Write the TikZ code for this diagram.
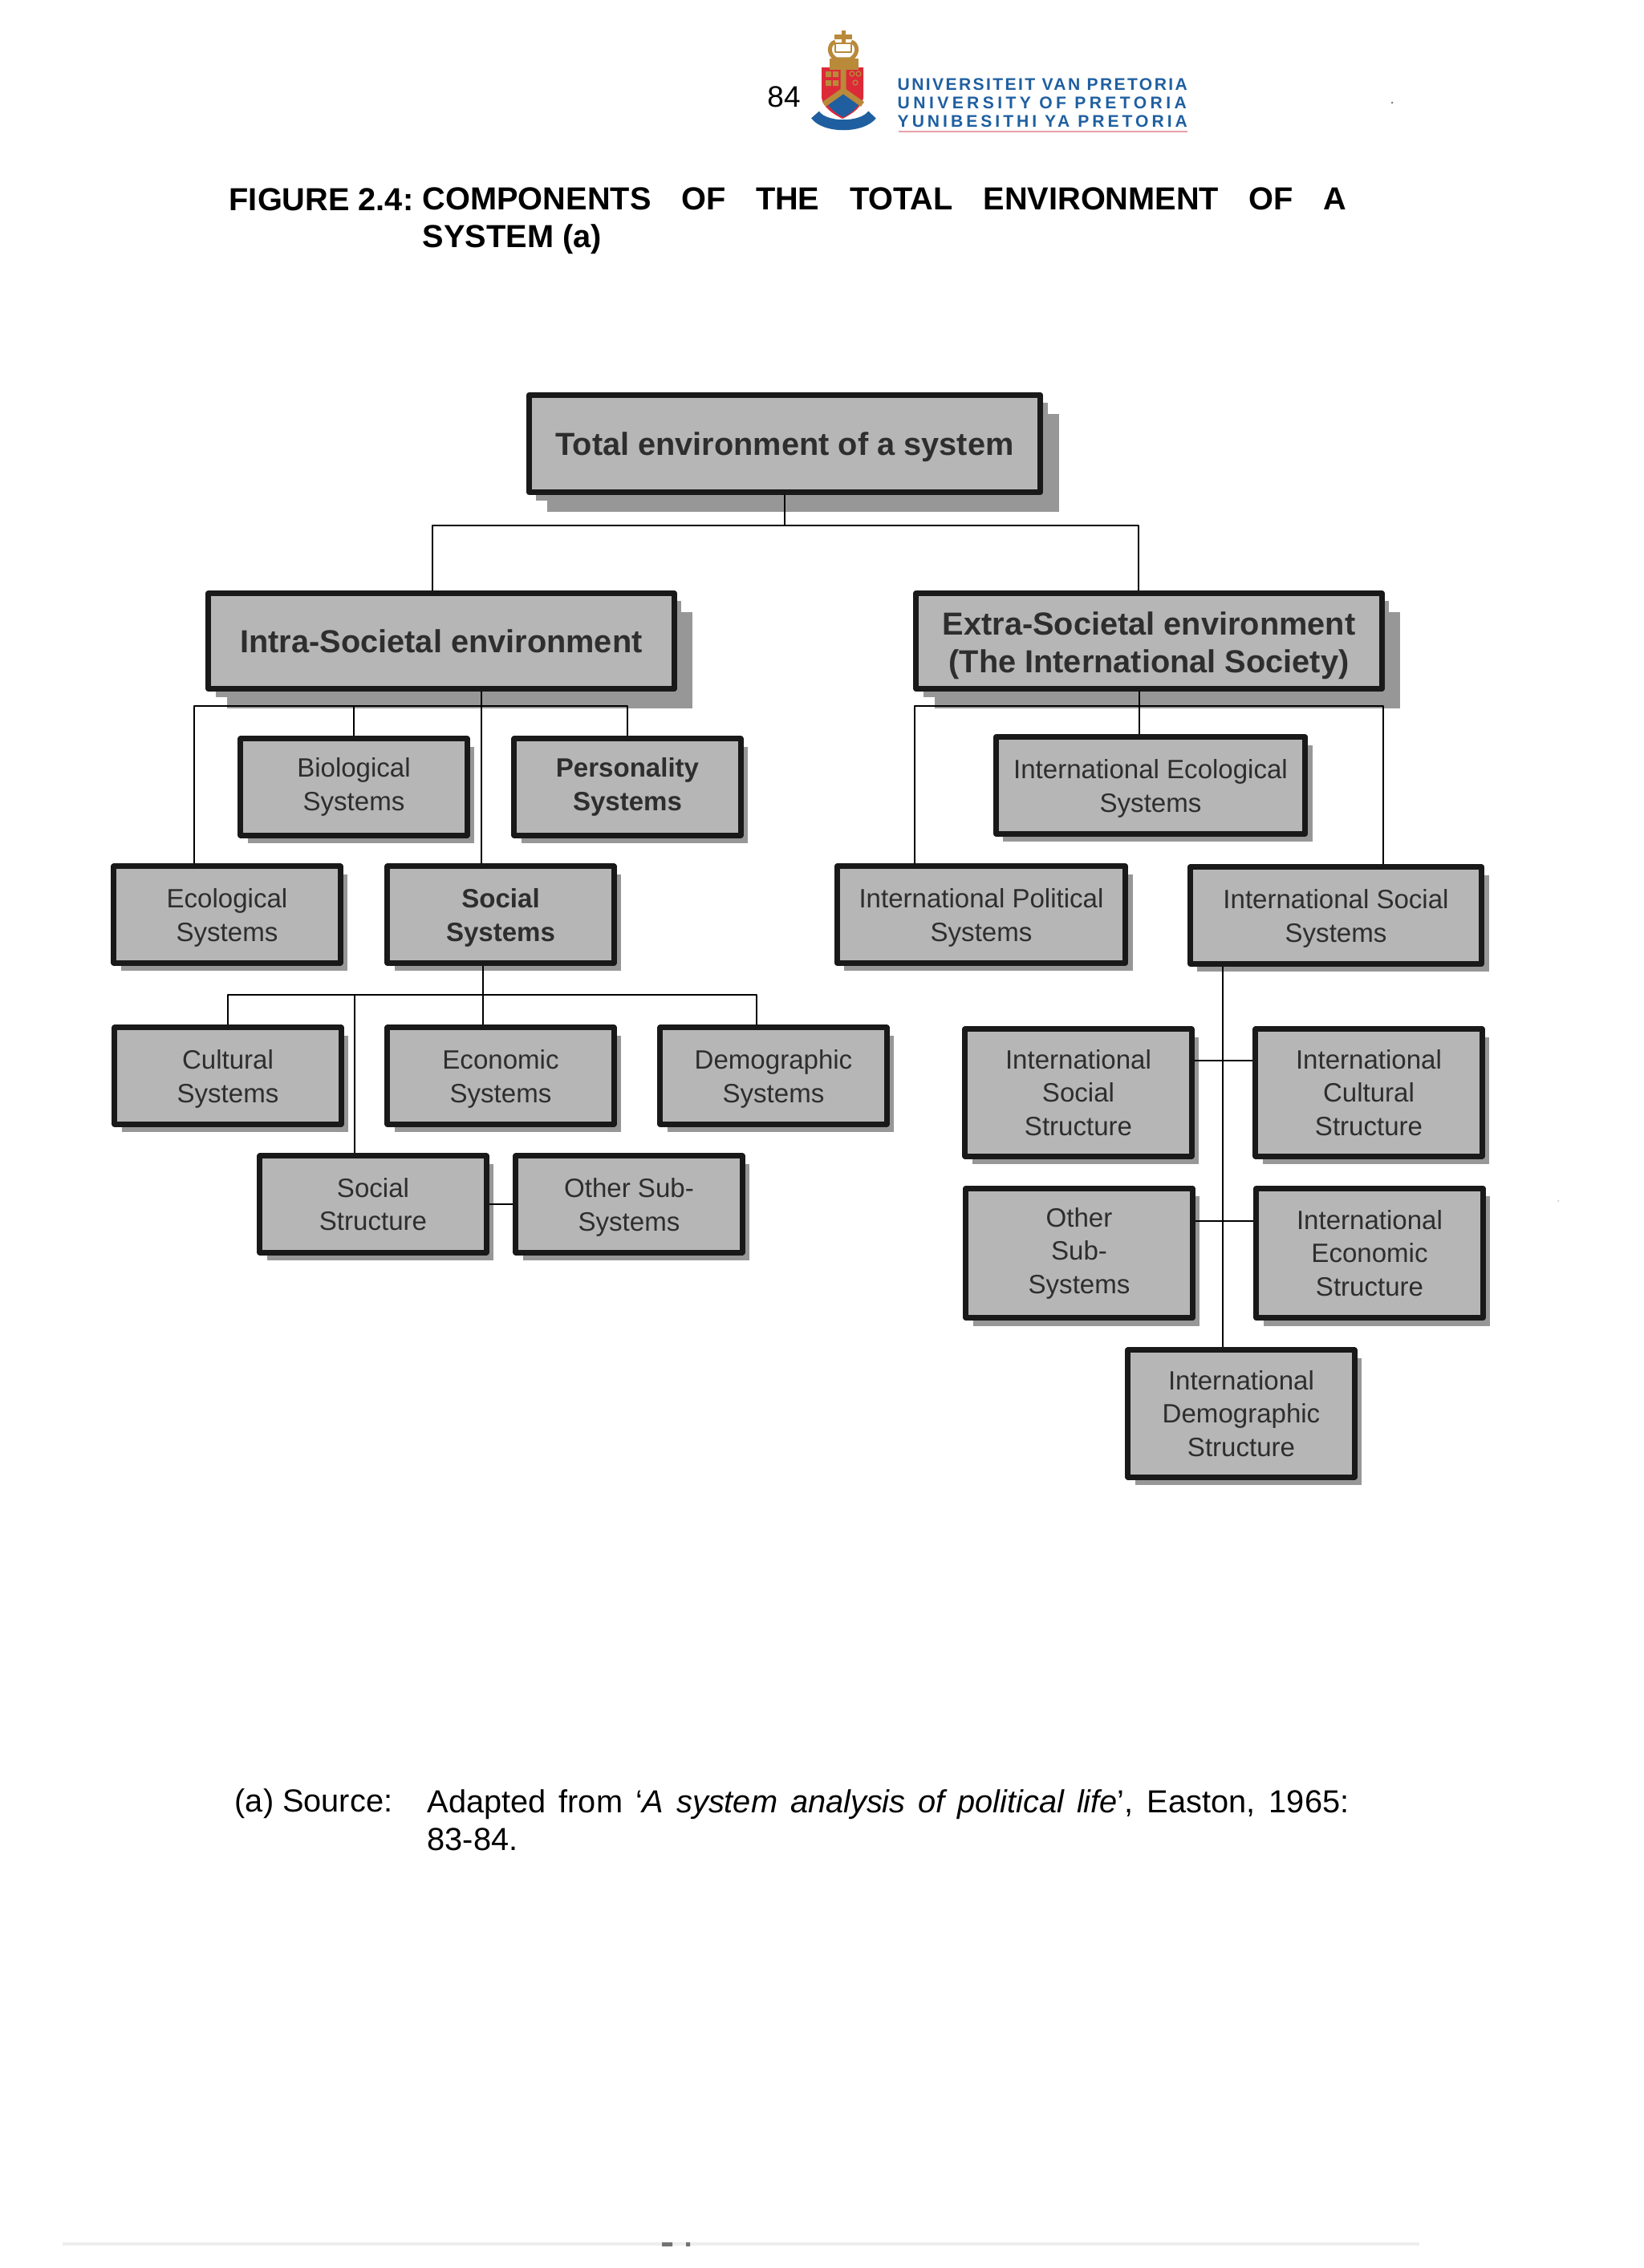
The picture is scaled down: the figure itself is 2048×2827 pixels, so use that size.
\documentclass[tikz,border=0pt]{standalone}
\usepackage{fontspec}
\setmainfont{Liberation Sans}
\newfontfamily\crestfont{Liberation Sans}
\usetikzlibrary{shadows}
\definecolor{boxgray}{HTML}{B6B6B6}
\definecolor{shadegray}{HTML}{979797}
\definecolor{inkgray}{HTML}{2E2E2E}
\definecolor{crestblue}{HTML}{1F5FA0}
\definecolor{crestred}{HTML}{DC2A38}
\definecolor{crestgold}{HTML}{B98A3A}
\definecolor{crestpink}{HTML}{E8A0A8}
\definecolor{scanfaint}{HTML}{EEEEEE}
\newcommand{\lowfirst}[1]{\rule{0pt}{#1}}
\tikzset{
  sysbox/.style={draw=black!90, line width=0.07cm, fill=boxgray, align=center, inner sep=0pt, text=inkgray,
    font=\fontsize{9.4}{11.8}\selectfont, minimum width=2.82cm, minimum height=1.20cm,
    drop shadow={shadow xshift=0.09cm, shadow yshift=-0.10cm, fill=shadegray, opacity=1}},
  tallbox/.style={sysbox, minimum height=1.58cm},
  boldbox/.style={sysbox, font=\fontsize{9.4}{11.8}\selectfont\bfseries},
  headbox/.style={sysbox, font=\fontsize{11.3}{13.3}\selectfont\bfseries, minimum width=5.80cm,
    drop shadow={shadow xshift=0.23cm, shadow yshift=-0.24cm, fill=shadegray, opacity=1}},
  link/.style={draw=black, line width=0.02cm},
  pagetext/.style={inner sep=0pt, font=\fontsize{11.3}{13.3}\selectfont},
  cresttext/.style={anchor=west, inner sep=0pt, text=crestblue, font=\crestfont\fontsize{6}{7}\selectfont\bfseries}
}
\begin{document}
\begin{tikzpicture}[x=0.01cm, y=-0.01cm, line join=round]
  \useasboundingbox (0,0) rectangle (2048,2827);

  % Page head
  \node[pagetext, font=\fontsize{10.5}{12}\selectfont] (pageno) at (977,121) {84};
  \node[cresttext] (crestone) at (1118,105) {\addfontfeature{LetterSpace=11.3}UNIVERSITEIT VAN PRETORIA};
  \node[cresttext] (cresttwo) at (1118,128) {\addfontfeature{LetterSpace=20.9}UNIVERSITY OF PRETORIA};
  \node[cresttext] (crestthree) at (1118,151) {\addfontfeature{LetterSpace=18.9}YUNIBESITHI YA PRETORIA};
  \draw[crestpink, line width=0.02cm] (1120,164) -- (1480,164);

  % Crest
  \fill[crestred] (1024,84) -- (1076,84) -- (1076,122) .. controls (1074,134) and (1062,142) .. (1050,148) .. controls (1038,142) and (1026,134) .. (1024,122) -- cycle;
  \fill[crestblue] (1031,129) -- (1051,115) -- (1071,129) .. controls (1066,137) and (1058,143) .. (1051,146) .. controls (1044,143) and (1036,137) .. (1031,129) -- cycle;
  \draw[crestgold, line width=0.07cm] (1051,84) -- (1051,113) (1027,130) -- (1051,113) -- (1075,130);
  \fill[crestgold] (1029,89) rectangle (1036,96) (1038,89) rectangle (1045,96) (1029,100) rectangle (1036,107) (1038,100) rectangle (1045,107);
  \draw[crestgold, line width=0.012cm] (1062,92) circle (3) (1070,92) circle (3) (1066,103) circle (3);
  \draw[crestgold, line width=0.14cm] (1034,80) -- (1070,80);
  \draw[crestgold, line width=0.05cm] (1042,74) .. controls (1030,66) and (1034,54) .. (1041,52) (1060,74) .. controls (1072,66) and (1068,54) .. (1061,52) (1042,74) -- (1060,74);
  \fill[white, draw=crestgold, line width=0.015cm] (1041,54) rectangle (1061,65);
  \draw[crestgold, line width=0.05cm] (1051,38) -- (1051,54) (1040,46) -- (1062,46);
  \draw[crestblue, line width=0.13cm] (1016,143) .. controls (1028,160) and (1074,160) .. (1087,143);

  % Title
  \node[pagetext, anchor=base west, font=\fontsize{11.3}{13.3}\selectfont\bfseries] (figno) at (285,262) {FIGURE 2.4:};
  \node[pagetext, anchor=north west, text width=11.51cm, align=justify, font=\fontsize{11.3}{13.3}\selectfont\bfseries] (figtitle) at (526,233)
    {COMPONENTS OF THE TOTAL ENVIRONMENT OF A\linebreak SYSTEM (a)};

  % Top levels
  \node[headbox, minimum width=6.37cm, minimum height=1.21cm] (total) at (978,553) {\lowfirst{10.4pt}Total environment of a system};
  \node[headbox, minimum height=1.19cm] (intra) at (550,799) {Intra-Societal environment};
  \node[headbox, minimum height=1.19cm] (extra) at (1432,799) {\lowfirst{11.4pt}Extra-Societal environment\\(The International Society)};

  % Intra-societal side
  \node[sysbox] (bio) at (441,981) {Biological\\Systems};
  \node[boldbox] (person) at (782,981) {Personality\\Systems};
  \node[sysbox] (eco) at (283,1140) {\lowfirst{9pt}Ecological\\Systems};
  \node[boldbox] (social) at (624,1140) {\lowfirst{9pt}Social\\Systems};
  \node[sysbox] (cult) at (284,1341) {\lowfirst{9pt}Cultural\\Systems};
  \node[sysbox] (econ) at (624,1341) {\lowfirst{9pt}Economic\\Systems};
  \node[sysbox] (demo) at (964,1341) {\lowfirst{9pt}Demographic\\Systems};
  \node[sysbox] (struct) at (465,1501) {Social\\Structure};
  \node[sysbox] (other) at (784,1501) {\lowfirst{9pt}Other Sub-\\Systems};

  % Extra-societal side
  \node[sysbox, minimum width=3.85cm] (intleco) at (1434,979) {\lowfirst{9pt}International Ecological\\Systems};
  \node[sysbox, minimum width=3.59cm] (intlpol) at (1223,1140) {\lowfirst{9pt}International Political\\Systems};
  \node[sysbox, minimum width=3.63cm] (intlsoc) at (1665,1141) {\lowfirst{9pt}International Social\\Systems};
  \node[tallbox] (socstruct) at (1344,1362) {International\\Social\\Structure};
  \node[tallbox] (culstruct) at (1706,1362) {International\\Cultural\\Structure};
  \node[tallbox, minimum height=1.61cm] (othersub) at (1345,1562) {Other\\Sub-\\Systems};
  \node[tallbox, minimum height=1.61cm] (ecostruct) at (1707,1562) {International\\Economic\\Structure};
  \node[tallbox] (demstruct) at (1547,1762) {International\\Demographic\\Structure};

  % Links from the top
  \coordinate (intrabus) at (539,655);
  \coordinate (extrabus) at (1419,655);
  \draw[link] (total.south) |- (intrabus) -- (intrabus |- intra.north);
  \draw[link] (total.south) |- (extrabus) -- (extrabus |- extra.north);

  % Links of the intra-societal side
  \coordinate (ecobus) at (242,880);
  \coordinate (socbus) at (600,880);
  \draw[link] (ecobus |- eco.north) -- (ecobus) -| (person.north);
  \draw[link] (bio.north |- ecobus) -- (bio.north);
  \draw[link] (socbus |- intra.south) -- (socbus |- social.north);
  \coordinate (subbus) at (602,1240);
  \coordinate (demobus) at (943,1240);
  \coordinate (structbus) at (442,1240);
  \draw[link] (subbus |- social.south) -- (subbus |- econ.north);
  \draw[link] (cult.north) |- (demobus) -- (demobus |- demo.north);
  \draw[link] (structbus) -- (structbus |- struct.north);
  \draw[link] (struct) -- (other);

  % Links of the extra-societal side
  \coordinate (polbus) at (1140,880);
  \coordinate (socialbus) at (1724,880);
  \coordinate (ecodrop) at (1420,880);
  \draw[link] (polbus |- intlpol.north) -- (polbus) -- (socialbus) -- (socialbus |- intlsoc.north);
  \draw[link] (ecodrop |- extra.south) -- (ecodrop |- intleco.north);
  \coordinate (trunk) at (1524,1322);
  \coordinate (trunktwo) at (1524,1522);
  \draw[link] (trunk |- intlsoc.south) -- (trunk |- demstruct.north);
  \draw[link] (socstruct.east |- trunk) -- (culstruct.west |- trunk);
  \draw[link] (othersub.east |- trunktwo) -- (ecostruct.west |- trunktwo);

  % Source
  \node[pagetext, anchor=base west] (srcmark) at (292,2258) {(a) Source:};
  \node[pagetext, anchor=north west, text width=11.48cm, align=justify] (srctext) at (532,2230)
    {Adapted from `\textit{A system analysis of political life}', Easton, 1965: 83-84.};

  % Scan marks
  \draw[scanfaint, line width=0.04cm] (78,2797) -- (1769,2797);
  \fill[black!55] (825,2795) rectangle (838,2800) (855,2795) rectangle (860,2800);
  \fill[black!50] (1735,128) circle (1.5);
  \fill[black!15] (1942,1497) circle (1.5);
\end{tikzpicture}
\end{document}
